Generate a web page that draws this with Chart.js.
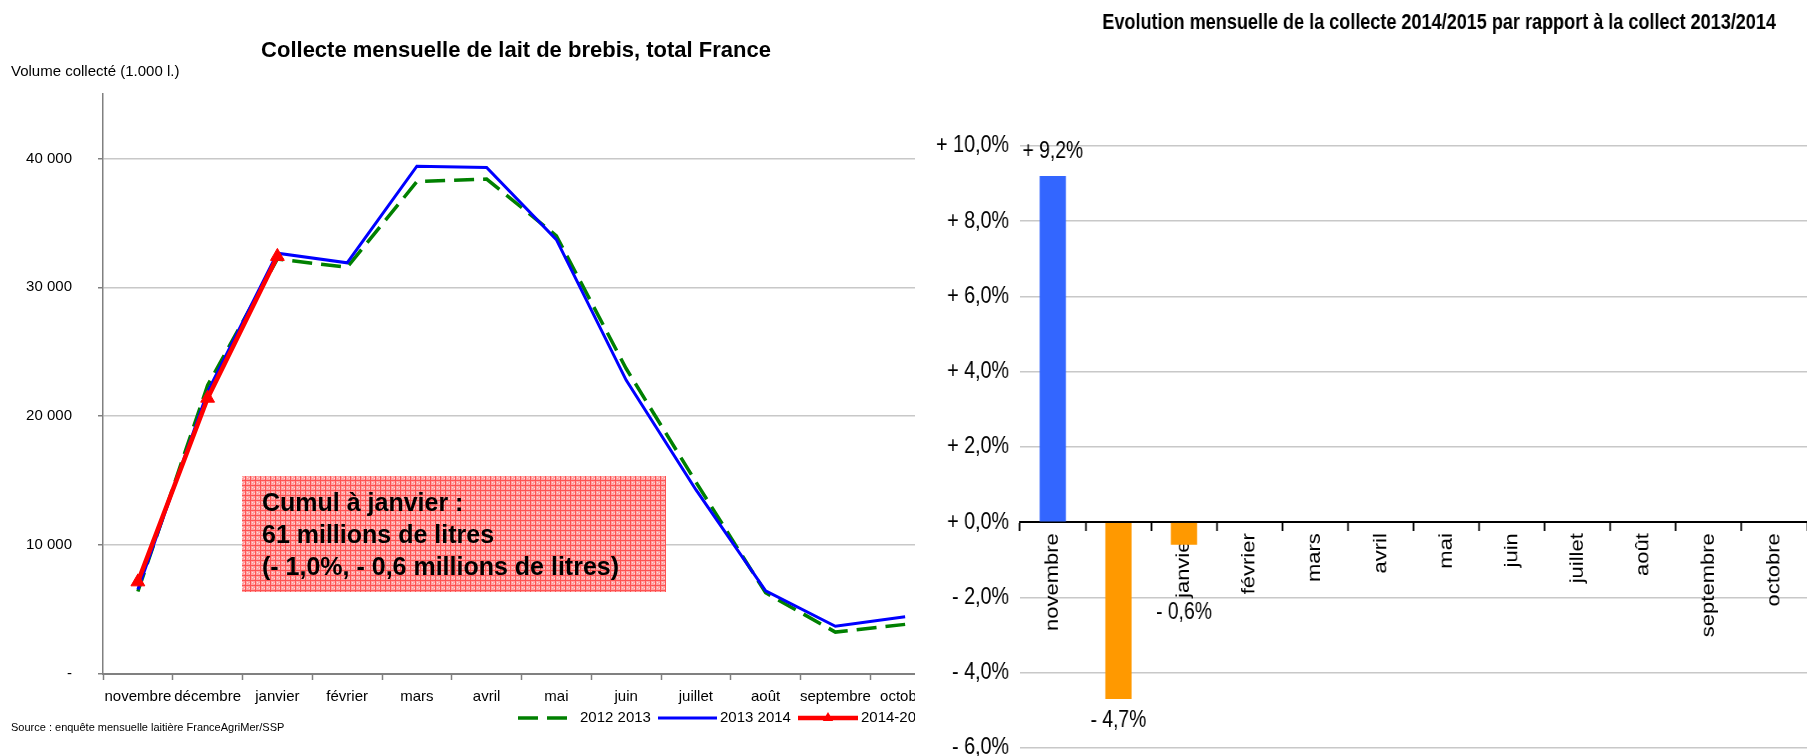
<!DOCTYPE html>
<html lang="fr">
<head>
<meta charset="utf-8">
<title>Collecte mensuelle de lait de brebis</title>
<script src="https://cdn.jsdelivr.net/npm/chart.js@4.4.1/dist/chart.umd.min.js"></script>
<style>
  html, body { margin: 0; padding: 0; background: #fff; }
  body { width: 1807px; height: 756px; position: relative; overflow: hidden; }
  .left-wrap { position: absolute; left: 0; top: 0; width: 915px; height: 756px; overflow: hidden; }
  #collecteChart { position: absolute; left: 0; top: 0; }
  /* le graphique de droite est un peu comprimé en largeur, comme l'original */
  #evolutionChart { position: absolute; left: 915px; top: 0; transform: scaleX(0.84); transform-origin: 0 0; }
</style>
</head>
<body>
<div class="left-wrap"><canvas id="collecteChart" width="950" height="756"></canvas></div>
<canvas id="evolutionChart" width="1062" height="775"></canvas>
<script>
// Données (volume en 1 000 litres, évolution en %)
const months = ["novembre", "décembre", "janvier", "février", "mars", "avril", "mai", "juin", "juillet", "août", "septembre", "octobre"];
const collecte2012_2013 = [6400, 22400, 32200, 31550, 38200, 38400, 34000, 23700, 14900, 6300, 3250, 3850];
const collecte2013_2014 = [6550, 21900, 32650, 31900, 39400, 39300, 33700, 22800, 14300, 6450, 3700, 4450];
const collecte2014_2015 = [7150, 21400, 32400, null, null, null, null, null, null, null, null, null];
const evolution = [9.2, -4.7, -0.6, null, null, null, null, null, null, null, null, null];
const volumeTicks = [0, 10000, 20000, 30000, 40000];
const seriesNames = ["2012 2013", "2013 2014", "2014-2015"];
const cumulText = ["Cumul à janvier :", "61 millions de litres", "(- 1,0%, - 0,6 millions de litres)"];

const SANS = '"Liberation Sans", Arial, sans-serif';

Chart.defaults.color = "#000";
Chart.defaults.animation = false;

function formatVolume(v) {
  if (v === 0) return "-";
  return String(v).replace(/\B(?=(\d{3})+$)/g, " ");
}

function formatPct(v) {
  const sign = v >= 0 ? "+ " : "- ";
  return sign + Math.abs(v).toFixed(1).replace(".", ",") + "%";
}

// motif rouge quadrillé de l'encadré
function makeHatch(ctx) {
  const c = document.createElement("canvas");
  c.width = 5;
  c.height = 5;
  const p = c.getContext("2d");
  p.fillStyle = "#ffa2a2";
  p.fillRect(0, 0, 5, 5);
  p.fillStyle = "#ff5252";
  p.fillRect(0, 0, 5, 1);
  p.fillRect(0, 0, 1, 5);
  p.fillStyle = "#ffdcdc";
  p.fillRect(2, 2, 1, 1);
  p.fillRect(4, 3, 1, 1);
  return ctx.createPattern(c, "repeat");
}

const collecteExtras = {
  id: "collecteExtras",
  afterDraw(chart) {
    const { ctx } = chart;
    ctx.save();
    ctx.fillStyle = "#000";
    ctx.textBaseline = "middle";

    ctx.font = "bold 22px " + SANS;
    ctx.textAlign = "center";
    ctx.fillText("Collecte mensuelle de lait de brebis, total France", 516, 51);

    ctx.font = "15px " + SANS;
    ctx.textAlign = "left";
    ctx.fillText("Volume collecté (1.000 l.)", 11, 72);

    ctx.font = "11px " + SANS;
    ctx.fillText("Source : enquête mensuelle laitière FranceAgriMer/SSP", 11, 728);

    // encadré cumul
    ctx.fillStyle = makeHatch(ctx);
    ctx.fillRect(242, 476, 424, 116);
    ctx.fillStyle = "#000";
    ctx.font = "bold 25px " + SANS;
    ctx.textBaseline = "alphabetic";
    cumulText.forEach((line, i) => ctx.fillText(line, 262, 511 + i * 32));

    // légende
    const ds = chart.data.datasets;
    const ly = 718;
    const items = [[518, 571, 580], [658, 717, 720], [798, 858, 861]];
    ctx.textBaseline = "middle";
    ctx.font = "15px " + SANS;
    items.forEach(([x0, x1, tx], i) => {
      const d = ds[i];
      ctx.strokeStyle = d.borderColor;
      ctx.lineWidth = d.borderWidth;
      ctx.setLineDash(d.borderDash || []);
      ctx.beginPath();
      ctx.moveTo(x0, ly);
      ctx.lineTo(x1, ly);
      ctx.stroke();
      ctx.setLineDash([]);
      if (d.pointRadius > 0) {
        const cx = (x0 + x1) / 2, r = 6;
        ctx.fillStyle = d.pointBackgroundColor;
        ctx.beginPath();
        ctx.moveTo(cx, ly - r);
        ctx.lineTo(cx + r * 0.87, ly + r * 0.5);
        ctx.lineTo(cx - r * 0.87, ly + r * 0.5);
        ctx.closePath();
        ctx.fill();
      }
      ctx.fillStyle = "#000";
      ctx.fillText(d.label, tx, ly);
    });
    ctx.restore();
  }
};

new Chart(document.getElementById("collecteChart"), {
  type: "line",
  data: {
    labels: months,
    datasets: [
      {
        label: seriesNames[0],
        data: collecte2012_2013,
        borderColor: "#008000",
        borderWidth: 3.5,
        borderDash: [20, 9],
        pointRadius: 0,
        tension: 0,
        order: 3
      },
      {
        label: seriesNames[1],
        data: collecte2013_2014,
        borderColor: "#0000ff",
        borderWidth: 3,
        pointRadius: 0,
        tension: 0,
        order: 2
      },
      {
        label: seriesNames[2],
        data: collecte2014_2015,
        borderColor: "#ff0000",
        borderWidth: 4.5,
        pointStyle: "triangle",
        pointRadius: 8,
        pointBackgroundColor: "#ff0000",
        pointBorderColor: "#ff0000",
        pointBorderWidth: 1,
        tension: 0,
        order: 1
      }
    ]
  },
  options: {
    responsive: false,
    layout: { padding: { top: 94, left: 0, right: 10, bottom: 0 } },
    plugins: { legend: { display: false }, tooltip: { enabled: false }, title: { display: false } },
    scales: {
      x: {
        offset: true,
        grid: { offset: true, drawOnChartArea: false, tickLength: 6, tickColor: "#808080", tickWidth: 1.5 },
        border: { color: "#808080", width: 2 },
        ticks: { font: { family: SANS, size: 15 }, color: "#000", padding: 8, maxRotation: 0, autoSkip: false },
        afterFit(scale) { scale.height = 82; }
      },
      y: {
        min: 0,
        max: 45000,
        afterBuildTicks(scale) { scale.ticks = volumeTicks.map((v) => ({ value: v })); },
        ticks: {
          font: { family: SANS, size: 15 },
          color: "#000",
          padding: 26,
          callback: (v) => formatVolume(v)
        },
        grid: {
          color: (c) => (c.tick && c.tick.value === 0 ? "rgba(0,0,0,0)" : "#c8c8c8"),
          lineWidth: 1.5,
          tickColor: "#808080",
          tickLength: 5
        },
        border: { color: "#808080", width: 1.5 },
        afterFit(scale) { scale.width = 103; }
      }
    }
  },
  plugins: [collecteExtras]
});

const evolutionExtras = {
  id: "evolutionExtras",
  afterDraw(chart) {
    const { ctx } = chart;
    const zeroY = chart.scales.y.getPixelForValue(0);
    ctx.save();
    ctx.fillStyle = "#000";
    ctx.textAlign = "center";
    ctx.textBaseline = "middle";
    ctx.font = "bold 21.5px " + SANS;
    ctx.fillText("Evolution mensuelle de la collecte 2014/2015 par rapport à la collect 2013/2014", 624, 23);

    ctx.font = "23px " + SANS;
    chart.getDatasetMeta(0).data.forEach((bar, i) => {
      const v = evolution[i];
      if (v == null) return;
      const y = v >= 0 ? bar.y - 24 : Math.max(bar.y + 22, zeroY + 90);
      ctx.fillText(formatPct(v), bar.x, y);
    });
    ctx.restore();
  }
};

new Chart(document.getElementById("evolutionChart"), {
  type: "bar",
  data: {
    labels: months,
    datasets: [{
      data: evolution,
      backgroundColor: evolution.map((v) => (v >= 0 ? "#3366ff" : "#ff9900")),
      categoryPercentage: 1,
      barPercentage: 0.4
    }]
  },
  options: {
    responsive: false,
    layout: { padding: { top: 146, left: 0, right: 0, bottom: 10 } },
    plugins: { legend: { display: false }, tooltip: { enabled: false }, title: { display: false } },
    scales: {
      x: {
        position: { y: 0 },
        grid: { offset: true, drawOnChartArea: false, tickLength: 8, tickColor: "#000", tickWidth: 2 },
        border: { color: "#000", width: 2 },
        ticks: { font: { family: SANS, size: 22 }, color: "#000", padding: 3, minRotation: 90, maxRotation: 90, autoSkip: false }
      },
      y: {
        min: -6,
        max: 10,
        ticks: {
          stepSize: 2,
          font: { family: SANS, size: 23.5 },
          color: "#000",
          padding: 13,
          callback: (v) => formatPct(v)
        },
        grid: {
          color: (c) => (c.tick && c.tick.value === 0 ? "rgba(0,0,0,0)" : "#c8c8c8"),
          lineWidth: 1.5,
          drawTicks: false
        },
        border: { display: false },
        afterFit(scale) { scale.width = 125; }
      }
    }
  },
  plugins: [evolutionExtras]
});
</script>
</body>
</html>
